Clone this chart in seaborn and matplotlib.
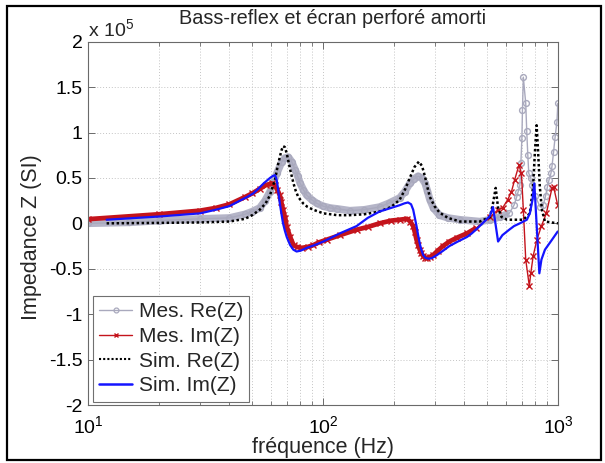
import numpy as np
import pandas as pd
import matplotlib
matplotlib.use("Agg")
import matplotlib.pyplot as plt
import seaborn as sns
from matplotlib.lines import Line2D
from matplotlib.patches import Rectangle
from matplotlib.ticker import FixedLocator, LogLocator, NullFormatter

# ---------------- data (impedance values in units of 1e5) ----------------
mes_re_f = [10, 15, 20, 30, 40, 46.6, 50, 53.8, 56.7, 59.5,
            61.5, 63.6, 66.8, 68.9, 71.2, 73.5, 76.1, 78, 80, 82.5,
            85.2, 89.5, 94.1, 100, 107, 115, 130, 150, 174, 190,
            212, 223, 234, 244, 254, 263, 272, 278, 285, 295,
            313, 340, 383, 465, 513, 564, 620, 650, 667, 677,
            688, 695, 702, 706, 712, 729, 736, 744, 751, 766,
            774, 800, 840, 865, 885, 901, 916, 933, 943, 958,
            972, 990, 998]
mes_re_v = [0.0, 0.01, 0.03, 0.05, 0.06, 0.10, 0.13, 0.17, 0.25, 0.35,
            0.45, 0.55, 0.68, 0.72, 0.73, 0.68, 0.59, 0.52, 0.44, 0.37,
            0.31, 0.26, 0.22, 0.19, 0.17, 0.16, 0.14, 0.15, 0.18, 0.22,
            0.28, 0.35, 0.44, 0.49, 0.52, 0.50, 0.44, 0.36, 0.26, 0.17,
            0.09, 0.06, 0.04, 0.02, 0.04, 0.07, 0.11, 0.20, 0.29, 0.35,
            0.42, 0.66, 0.94, 1.25, 1.61, 1.32, 1.02, 0.75, 0.55, 0.50,
            0.42, 0.30, 0.18, 0.20, 0.30, 0.40, 0.48, 0.55, 0.63, 0.79,
            0.95, 1.12, 1.32]

mes_im_f = [10, 20, 30, 35, 40, 46.6, 50, 53.8, 57, 60.4,
            62.5, 63.9, 65.5, 66.5, 67.6, 69, 70.1, 72.5, 74.9, 77.5,
            81.2, 86, 90.9, 96, 103.7, 118, 139, 155, 174, 195,
            212, 228, 235, 242, 246, 250, 254, 258, 262, 267,
            272, 278, 285, 294, 308, 324, 345, 370, 410, 449,
            513, 556, 581, 611, 634, 654, 682, 699, 712, 729,
            755, 766, 784, 813, 850, 892, 943, 958, 997]
mes_im_v = [0.046, 0.10, 0.14, 0.17, 0.21, 0.29, 0.33, 0.38, 0.42, 0.44,
            0.42, 0.37, 0.31, 0.23, 0.15, 0.06, -0.04, -0.15, -0.24, -0.26,
            -0.27, -0.26, -0.24, -0.21, -0.18, -0.13, -0.07, -0.04, 0.0, 0.03,
            0.04, 0.05, 0.02, -0.03, -0.10, -0.18, -0.24, -0.29, -0.33, -0.36,
            -0.38, -0.38, -0.37, -0.35, -0.30, -0.25, -0.20, -0.16, -0.11, -0.05,
            0.07, 0.15, 0.17, 0.26, 0.35, 0.48, 0.64, 0.55, 0.15, -0.40,
            -0.69, -0.55, -0.36, -0.18, -0.03, 0.11, 0.39, 0.40, 0.20]

sim_re_f = [12, 20, 30, 40, 46.6, 50, 53.8, 57, 59.5, 61,
            62.5, 64, 65.5, 66.5, 67.6, 68.8, 70.1, 71.3, 72.5, 74.9,
            76.5, 78.5, 82.3, 86, 90.9, 100.4, 115, 130, 150, 174,
            195, 212, 224, 234, 245, 256, 264, 272, 278, 285,
            298, 313, 340, 383, 465, 513, 529, 543, 556, 575,
            607, 712, 759, 783, 797, 811, 821, 837, 854, 880,
            1000]
sim_re_v = [0.0, 0.005, 0.01, 0.02, 0.05, 0.09, 0.15, 0.22, 0.31, 0.40,
            0.48, 0.62, 0.73, 0.80, 0.85, 0.84, 0.77, 0.68, 0.59, 0.44,
            0.36, 0.29, 0.22, 0.18, 0.15, 0.11, 0.09, 0.09, 0.10, 0.13,
            0.18, 0.26, 0.38, 0.50, 0.62, 0.68, 0.63, 0.51, 0.40, 0.29,
            0.19, 0.12, 0.06, 0.02, 0.02, 0.07, 0.22, 0.39, 0.17, 0.07,
            0.04, 0.04, 0.11, 0.40, 0.77, 1.08, 0.84, 0.40, 0.15, 0.02,
            0.0]

sim_im_f = [12, 20, 30, 35, 40, 44.3, 47.5, 50.5, 53, 55.9,
            59.5, 61, 62.5, 63.2, 63.9, 64.7, 65.5, 66.5, 67.6, 68.8,
            70.1, 72.5, 74.8, 77.2, 80.5, 85.2, 92, 100.4, 108, 118,
            139, 155, 174, 195, 212, 222, 230, 237, 242, 246,
            250, 254, 258, 262, 267, 273, 282, 292, 305, 325,
            345, 375, 410, 430, 456, 513, 529, 556, 580, 620,
            650, 688, 737, 759, 779, 793, 833, 850, 880, 943,
            997]
sim_im_v = [0.04, 0.075, 0.11, 0.15, 0.19, 0.25, 0.29, 0.33, 0.38, 0.44,
            0.50, 0.52, 0.53, 0.50, 0.44, 0.33, 0.22, 0.11, 0.0, -0.08,
            -0.15, -0.24, -0.29, -0.31, -0.30, -0.27, -0.24, -0.20, -0.16, -0.11,
            -0.03, 0.06, 0.13, 0.17, 0.20, 0.22, 0.23, 0.21, 0.15, 0.06,
            -0.03, -0.13, -0.22, -0.29, -0.35, -0.38, -0.39, -0.38, -0.35, -0.30,
            -0.25, -0.20, -0.15, -0.11, -0.05, 0.08, 0.18, -0.20, -0.13, -0.07,
            -0.03, 0.0, 0.04, 0.11, 0.26, 0.44, -0.55, -0.40, -0.29, -0.18,
            -0.09]

series_labels = ["Mes. Re(Z)", "Mes. Im(Z)", "Sim. Re(Z)", "Sim. Im(Z)"]
y_ticks = [-2, -1.5, -1, -0.5, 0, 0.5, 1, 1.5, 2]
y_tick_labels = ["-2", "-1.5", "-1", "-0.5", "0", "0.5", "1", "1.5", "2"]
x_ticks = [10, 100, 1000]
x_tick_labels = ["$10^{1}$", "$10^{2}$", "$10^{3}$"]
title = "Bass-reflex et écran perforé amorti"
xlabel = "fréquence (Hz)"
ylabel = "Impedance Z (SI)"
scale_text = "x 10$^{5}$"

# ---------------- style ----------------
sns.set_style("ticks")
plt.rcParams["font.family"] = ["Liberation Sans", "DejaVu Sans"]
plt.rcParams["mathtext.fontset"] = "custom"
plt.rcParams["mathtext.rm"] = "Liberation Sans"
plt.rcParams["mathtext.it"] = "Liberation Sans:italic"
plt.rcParams["mathtext.default"] = "regular"
plt.rcParams["axes.unicode_minus"] = False

GRAY = "#a9a9bd"
GRAY_BAND = "#b5b5c8"
RED = "#c4141c"
BLUE = "#1414ff"

fig = plt.figure(figsize=(6.05, 4.63), dpi=100)
ax = fig.add_axes([88 / 605, 1 - 405 / 463, 470 / 605, (405 - 41.7) / 463])
ax.set_axisbelow(True)


def draw(f, v, **kw):
    sns.lineplot(x=np.asarray(f, float), y=np.asarray(v, float), ax=ax,
                 estimator=None, sort=False, legend=False, **kw)


mre_f, mre_v = np.asarray(mes_re_f, float), np.asarray(mes_re_v, float)
mim_f, mim_v = np.asarray(mes_im_f, float), np.asarray(mes_im_v, float)

# measured real part: dense band at low frequency, thin line with circles everywhere
band = mre_f <= 620
draw(mre_f[band], mre_v[band], color=GRAY_BAND, lw=5.4, zorder=2.0,
     solid_capstyle="butt", solid_joinstyle="round")
draw(mre_f, mre_v, color=GRAY, lw=1.0, marker="o", markersize=4.2,
     markerfacecolor="none", mec=GRAY, mew=1.0, zorder=2.1)

# measured imaginary part
band = mim_f <= 470
draw(mim_f[band], mim_v[band], color=RED, lw=3.4, zorder=2.2,
     solid_capstyle="butt", solid_joinstyle="round")
draw(mim_f, mim_v, color=RED, lw=1.0, marker="x", markersize=3.8,
     mec=RED, mew=1.0, zorder=2.3)

# simulations
draw(sim_re_f, sim_re_v, color="black", lw=1.8, linestyle=(0, (1, 1)), zorder=2.4)
draw(sim_im_f, sim_im_v, color=BLUE, lw=1.6, zorder=2.5)

# ---------------- axes ----------------
ax.set_xscale("log")
ax.set_xlim(10, 1000)
ax.set_ylim(-2, 2)
ax.xaxis.set_major_locator(FixedLocator(x_ticks))
ax.set_xticklabels(x_tick_labels)
ax.xaxis.set_minor_locator(LogLocator(base=10, subs=np.arange(2, 10)))
ax.xaxis.set_minor_formatter(NullFormatter())
ax.set_yticks(y_ticks)
ax.set_yticklabels(y_tick_labels)

ax.tick_params(which="both", direction="in", top=True, right=True,
               color="#6a6a6a", labelsize=14, labelcolor="black")
ax.tick_params(which="major", length=5, width=0.7)
ax.tick_params(which="minor", length=3, width=0.6)
ax.tick_params(axis="x", which="major", pad=7)
ax.tick_params(axis="y", which="major", pad=4)

grid_kw = dict(color="#c4c4c4", linestyle=(0, (1, 2)), linewidth=0.7)
ax.grid(True, which="major", axis="both", **grid_kw)
ax.grid(True, which="minor", axis="x", **grid_kw)

for s in ax.spines.values():
    s.set_color("#6a6a6a")
    s.set_linewidth(0.8)

ax.set_title(title, fontsize=14.3, pad=13, x=0.52)
ax.set_xlabel(xlabel, fontsize=15.5)
ax.set_ylabel(ylabel, fontsize=15.5)
ax.xaxis.set_label_coords(0.5, -0.088)
ax.yaxis.set_label_coords(-0.098, 0.462)
ax.text(0.0, 1.004, scale_text, transform=ax.transAxes, ha="left", va="bottom", fontsize=14)

# legend
handles = [
    Line2D([], [], color=GRAY, lw=1.0, marker="o", markersize=3.5, markerfacecolor="none", mew=0.9),
    Line2D([], [], color=RED, lw=1.0, marker="x", markersize=3.5, mew=1.0),
    Line2D([], [], color="black", lw=1.5, linestyle=(0, (1, 1))),
    Line2D([], [], color=BLUE, lw=1.8),
]
leg = ax.legend(handles, series_labels, loc="lower left", bbox_to_anchor=(0.01, 0.009),
                borderaxespad=0, fontsize=15, frameon=True, fancybox=False,
                framealpha=1, edgecolor="#707070", handlelength=1.6, handletextpad=0.3,
                labelspacing=0.28, borderpad=0.3)
leg.get_frame().set_linewidth(0.8)

# outer frame of the figure
fig.patches.append(Rectangle((7 / 605, 1 - 460 / 463), (601 - 7) / 605, (460 - 6) / 463,
                             transform=fig.transFigure, fill=False, edgecolor="black",
                             linewidth=1.6, zorder=10))

fig.savefig("out.png", dpi=100)
